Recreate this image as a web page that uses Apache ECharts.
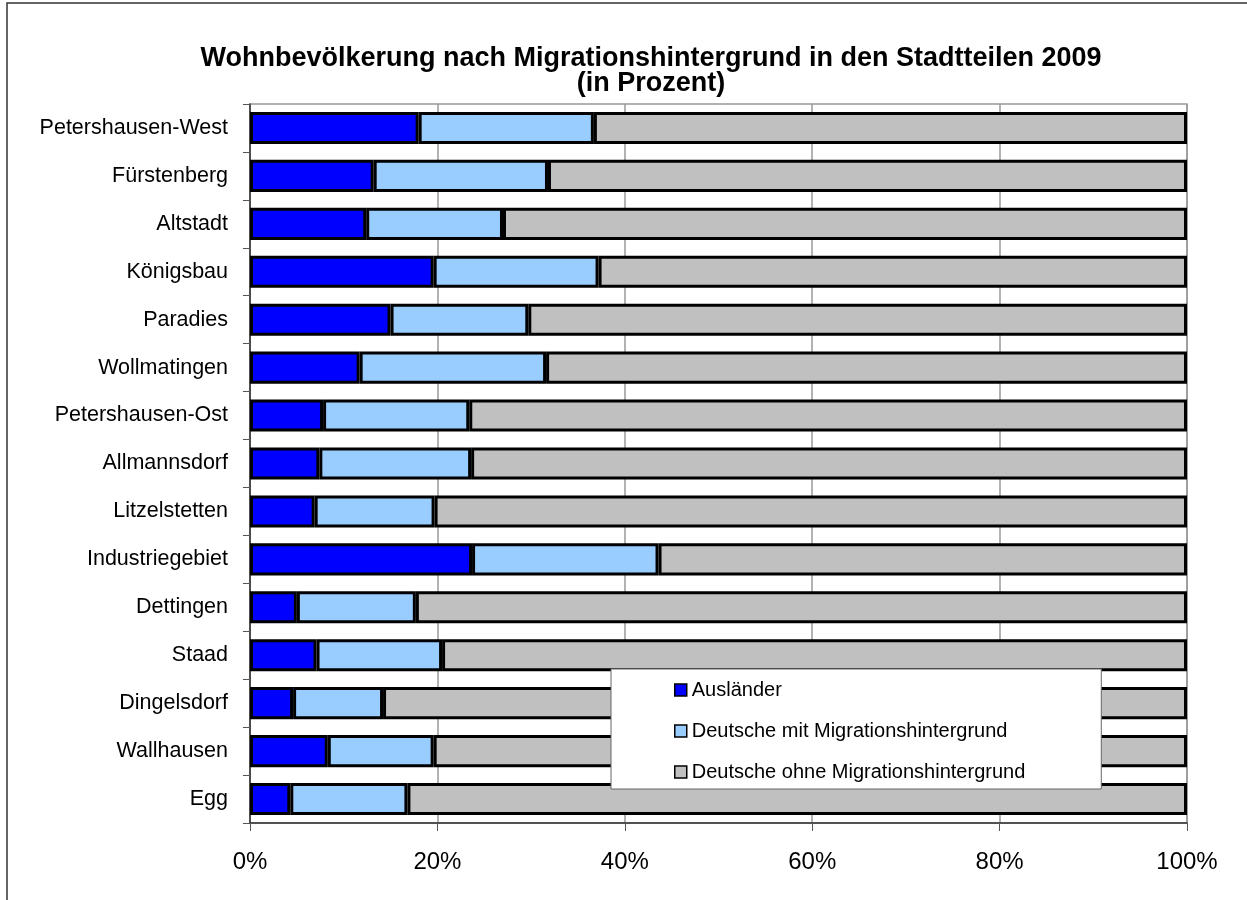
<!DOCTYPE html>
<html>
<head>
    <meta charset="UTF-8">
    <title>Wohnbevölkerung nach Migrationshintergrund</title>
    <style type="text/css">
        *{
            margin: 0;padding: 0;
        }
        #main{
            width: 1247px;
            height: 900px;
        }
    </style>
    <script src="https://cdn.jsdelivr.net/npm/echarts@6/dist/echarts.min.js" type="text/javascript" charset="utf-8"></script>
</head>
<body>
<div id="main"></div>
<script type="text/javascript">
    // Stadtteile, von oben nach unten
    var stadtteile = ['Petershausen-West', 'Fürstenberg', 'Altstadt', 'Königsbau', 'Paradies',
        'Wollmatingen', 'Petershausen-Ost', 'Allmannsdorf', 'Litzelstetten', 'Industriegebiet',
        'Dettingen', 'Staad', 'Dingelsdorf', 'Wallhausen', 'Egg'];

    // Anteile in Prozent
    var auslaender = [18.0, 13.2, 12.4, 19.6, 15.0, 11.7, 7.8, 7.4, 6.9, 23.7, 5.0, 7.1, 4.6, 8.3, 4.3];
    var mitMigration = [18.7, 18.6, 14.6, 17.6, 14.7, 19.9, 15.6, 16.2, 12.8, 19.9, 12.7, 13.4, 9.6, 11.3, 12.5];
    var ohneMigration = [63.3, 68.2, 73.0, 62.8, 70.3, 68.4, 76.6, 76.4, 80.3, 56.4, 82.3, 79.5, 85.8, 80.4, 83.2];

    var serienNamen = ['Ausländer', 'Deutsche mit Migrationshintergrund', 'Deutsche ohne Migrationshintergrund'];
    var xTicks = [0, 20, 40, 60, 80, 100];

    var myChart = echarts.init(document.getElementById('main'));

    var balken = {
        type: 'bar',
        stack: 'gesamt',
        barCategoryGap: '33%',
        itemStyle: {borderColor: '#000', borderWidth: 3}
    };

    var option = {
        backgroundColor: '#fff',
        textStyle: {fontFamily: 'Liberation Sans, Arial, sans-serif'},
        color: ['#0000ff', '#99ccff', '#c0c0c0'],
        title: {
            text: 'Wohnbevölkerung nach Migrationshintergrund in den Stadtteilen 2009\n(in Prozent)',
            left: 651,
            top: 46,
            padding: 0,
            textAlign: 'center',
            textStyle: {fontSize: 27, fontWeight: 'bold', color: '#000', lineHeight: 25}
        },
        graphic: [{
            type: 'rect',
            shape: {x: 7, y: 3, width: 1400, height: 1000},
            style: {fill: 'none', stroke: '#333', lineWidth: 1.5},
            silent: true
        }],
        legend: {
            data: serienNamen,
            orient: 'vertical',
            left: 611,
            top: 669,
            padding: [10, 76, 6, 63],
            itemGap: 19,
            itemWidth: 12,
            itemHeight: 12,
            icon: 'rect',
            backgroundColor: '#fff',
            borderColor: '#666',
            borderWidth: 1,
            itemStyle: {borderColor: '#000', borderWidth: 1.5},
            textStyle: {fontSize: 20, color: '#000', lineHeight: 22}
        },
        grid: {
            left: 250,
            right: 60,
            top: 104,
            bottom: 77,
            show: true,
            borderColor: '#999',
            borderWidth: 1.5,
            backgroundColor: '#fff'
        },
        xAxis: {
            type: 'value',
            min: xTicks[0],
            max: xTicks[xTicks.length - 1],
            interval: 20,
            axisLine: {show: true, lineStyle: {color: '#333', width: 1.5}},
            axisTick: {show: true, length: 8, lineStyle: {color: '#555'}},
            axisLabel: {fontSize: 24, color: '#000', margin: 27, formatter: '{value}%'},
            splitLine: {show: true, lineStyle: {color: '#999', width: 1.5}}
        },
        yAxis: {
            type: 'category',
            inverse: true,
            data: stadtteile,
            axisLine: {show: true, lineStyle: {color: '#333', width: 1.5}},
            axisTick: {show: true, length: 7, lineStyle: {color: '#555'}},
            axisLabel: {fontSize: 21.5, color: '#000', margin: 22}
        },
        series: [
            Object.assign({name: serienNamen[0], data: auslaender}, balken),
            Object.assign({name: serienNamen[1], data: mitMigration}, balken),
            Object.assign({name: serienNamen[2], data: ohneMigration}, balken)
        ]
    };

    myChart.setOption(option);
</script>
</body>
</html>
